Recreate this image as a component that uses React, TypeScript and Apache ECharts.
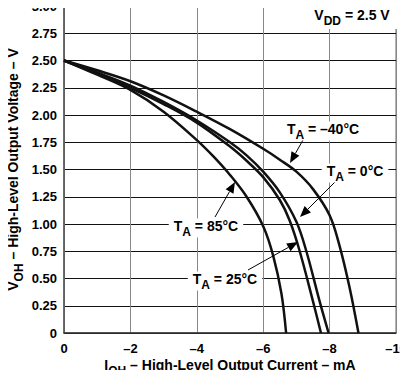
import React, { useEffect, useRef } from 'react';
import * as echarts from 'echarts';

// Output current (mA) and output voltage (V) for each temperature
const iM40 = [0, -1, -2, -3, -4, -5, -6, -6.5, -7, -7.5, -8, -8.3, -8.6, -8.87];
const vM40 = [2.5, 2.41, 2.31, 2.18, 2.03, 1.87, 1.69, 1.59, 1.48, 1.32, 1.08, 0.8, 0.42, 0];

const i0 = [0, -1, -2, -3, -4, -5, -5.5, -6, -6.5, -7, -7.3, -7.7, -7.97];
const v0 = [2.5, 2.39, 2.27, 2.12, 1.95, 1.75, 1.63, 1.48, 1.29, 1.02, 0.75, 0.29, 0];

const i25 = [0, -1, -2, -3, -4, -5, -5.5, -6, -6.5, -6.8, -7.1, -7.5, -7.74];
const v25 = [2.5, 2.38, 2.25, 2.1, 1.93, 1.71, 1.58, 1.43, 1.22, 1.03, 0.75, 0.29, 0];

const i85 = [0, -1, -2, -3, -4, -4.5, -5, -5.5, -6, -6.3, -6.55, -6.69];
const v85 = [2.5, 2.37, 2.23, 2.03, 1.77, 1.62, 1.45, 1.25, 0.98, 0.71, 0.36, 0];

const seriesNames = ['TA = –40°C', 'TA = 0°C', 'TA = 25°C', 'TA = 85°C'];
const xRange = [-10, 0];
const yRange = [0, 3];
const xStep = 2;
const yStep = 0.25;

const FONT = '"Liberation Sans", Arial, Helvetica, sans-serif';

const rich = {
  b: { fontFamily: FONT, fontWeight: 'bold' as const, fontSize: 14, color: '#000', lineHeight: 19, verticalAlign: 'top' as const },
  s: { fontFamily: FONT, fontWeight: 'bold' as const, fontSize: 12, color: '#000', lineHeight: 19, verticalAlign: 'bottom' as const },
};

function zip(xs: number[], ys: number[]) {
  return xs.map((x, k) => [x, ys[k]]);
}

function arrow(x1: number, y1: number, x2: number, y2: number) {
  const dx = x2 - x1;
  const dy = y2 - y1;
  const L = Math.hypot(dx, dy);
  const ux = dx / L;
  const uy = dy / L;
  const h = 11;
  const w = 4.5;
  const bx = x2 - ux * h;
  const by = y2 - uy * h;
  return [
    { type: 'line', shape: { x1, y1, x2: bx, y2: by }, style: { stroke: '#000', lineWidth: 1 }, z: 10 },
    {
      type: 'polygon',
      shape: { points: [[x2, y2], [bx - uy * w, by + ux * w], [bx + uy * w, by - ux * w]] },
      style: { fill: '#000' },
      z: 10,
    },
  ];
}

function label(text: string, x: number, y: number) {
  return {
    type: 'text',
    x,
    y,
    z: 11,
    style: {
      text,
      rich,
      align: 'center',
      verticalAlign: 'middle',
      backgroundColor: '#fff',
      padding: [0, 5, 0, 5],
    },
  };
}

export default function App() {
  const ref = useRef<HTMLDivElement>(null);
  useEffect(() => {
    if (!ref.current) return;
    const chart = echarts.init(ref.current, null, { renderer: 'svg' });
    const datasets = [zip(iM40, vM40), zip(i0, v0), zip(i25, v25), zip(i85, v85)];
    chart.setOption({
      animation: false,
      grid: {
        left: 64,
        right: 12,
        top: 6,
        bottom: 45,
        show: true,
        borderColor: '#666',
        borderWidth: 1,
        containLabel: false,
        outerBoundsMode: 'none',
      },
      xAxis: {
        type: 'value',
        min: xRange[0],
        max: xRange[1],
        interval: xStep,
        inverse: true,
        axisLine: { show: true, lineStyle: { color: '#333', width: 1.5 } },
        axisTick: { show: false },
        splitLine: { show: true, lineStyle: { color: '#888', width: 1 } },
        axisLabel: {
          margin: 9,
          fontFamily: FONT,
          fontWeight: 'bold',
          fontSize: 13,
          color: '#000',
          hideOverlap: false,
          formatter: (v: number) => (v === 0 ? '0' : '–' + Math.abs(v)),
        },
        name: '{b|I}{s|OH}{b| – High-Level Output Current – mA}',
        nameLocation: 'middle',
        nameGap: 25,
        nameMoveOverlap: false,
        nameTextStyle: { rich },
      },
      yAxis: {
        type: 'value',
        min: yRange[0],
        max: yRange[1],
        interval: yStep,
        axisLine: { show: true, lineStyle: { color: '#555', width: 1.5 } },
        axisTick: { show: false },
        splitLine: { show: true, lineStyle: { color: '#111', width: 1 } },
        axisLabel: {
          margin: 7,
          fontFamily: FONT,
          fontWeight: 'bold',
          fontSize: 13,
          color: '#000',
          hideOverlap: false,
          formatter: (v: number) => (v === 0 ? '0' : v.toFixed(2)),
        },
        name: '{b|V}{s|OH}{b| – High-Level Output Voltage – V}',
        nameLocation: 'middle',
        nameGap: 39,
        nameMoveOverlap: false,
        nameTextStyle: { rich },
      },
      series: datasets.map((d, k) => ({
        name: seriesNames[k],
        type: 'line',
        data: d,
        showSymbol: false,
        smooth: 0.35,
        lineStyle: { color: '#111', width: 2.5 },
        z: 5,
      })),
      graphic: [
        {
          type: 'text',
          x: 352,
          y: 17,
          z: 11,
          style: {
            text: '{b|V}{s|DD}{b| = 2.5 V}',
            rich,
            align: 'center',
            verticalAlign: 'middle',
            backgroundColor: '#fff',
            padding: [3, 12, 2, 12],
          },
        },
        label('{b|T}{s|A}{b| = –40°C}', 323, 131),
        ...arrow(303, 140, 290, 163),
        label('{b|T}{s|A}{b| = 0°C}', 355, 173),
        ...arrow(335, 182, 300, 217),
        label('{b|T}{s|A}{b| = 85°C}', 206, 228),
        ...arrow(215, 217, 235, 182),
        label('{b|T}{s|A}{b| = 25°C}', 225, 281),
        ...arrow(248, 270, 298, 242),
      ],
    });
    return () => chart.dispose();
  }, []);
  return <div ref={ref} style={{ width: 408, height: 378, margin: -8 }} />;
}
